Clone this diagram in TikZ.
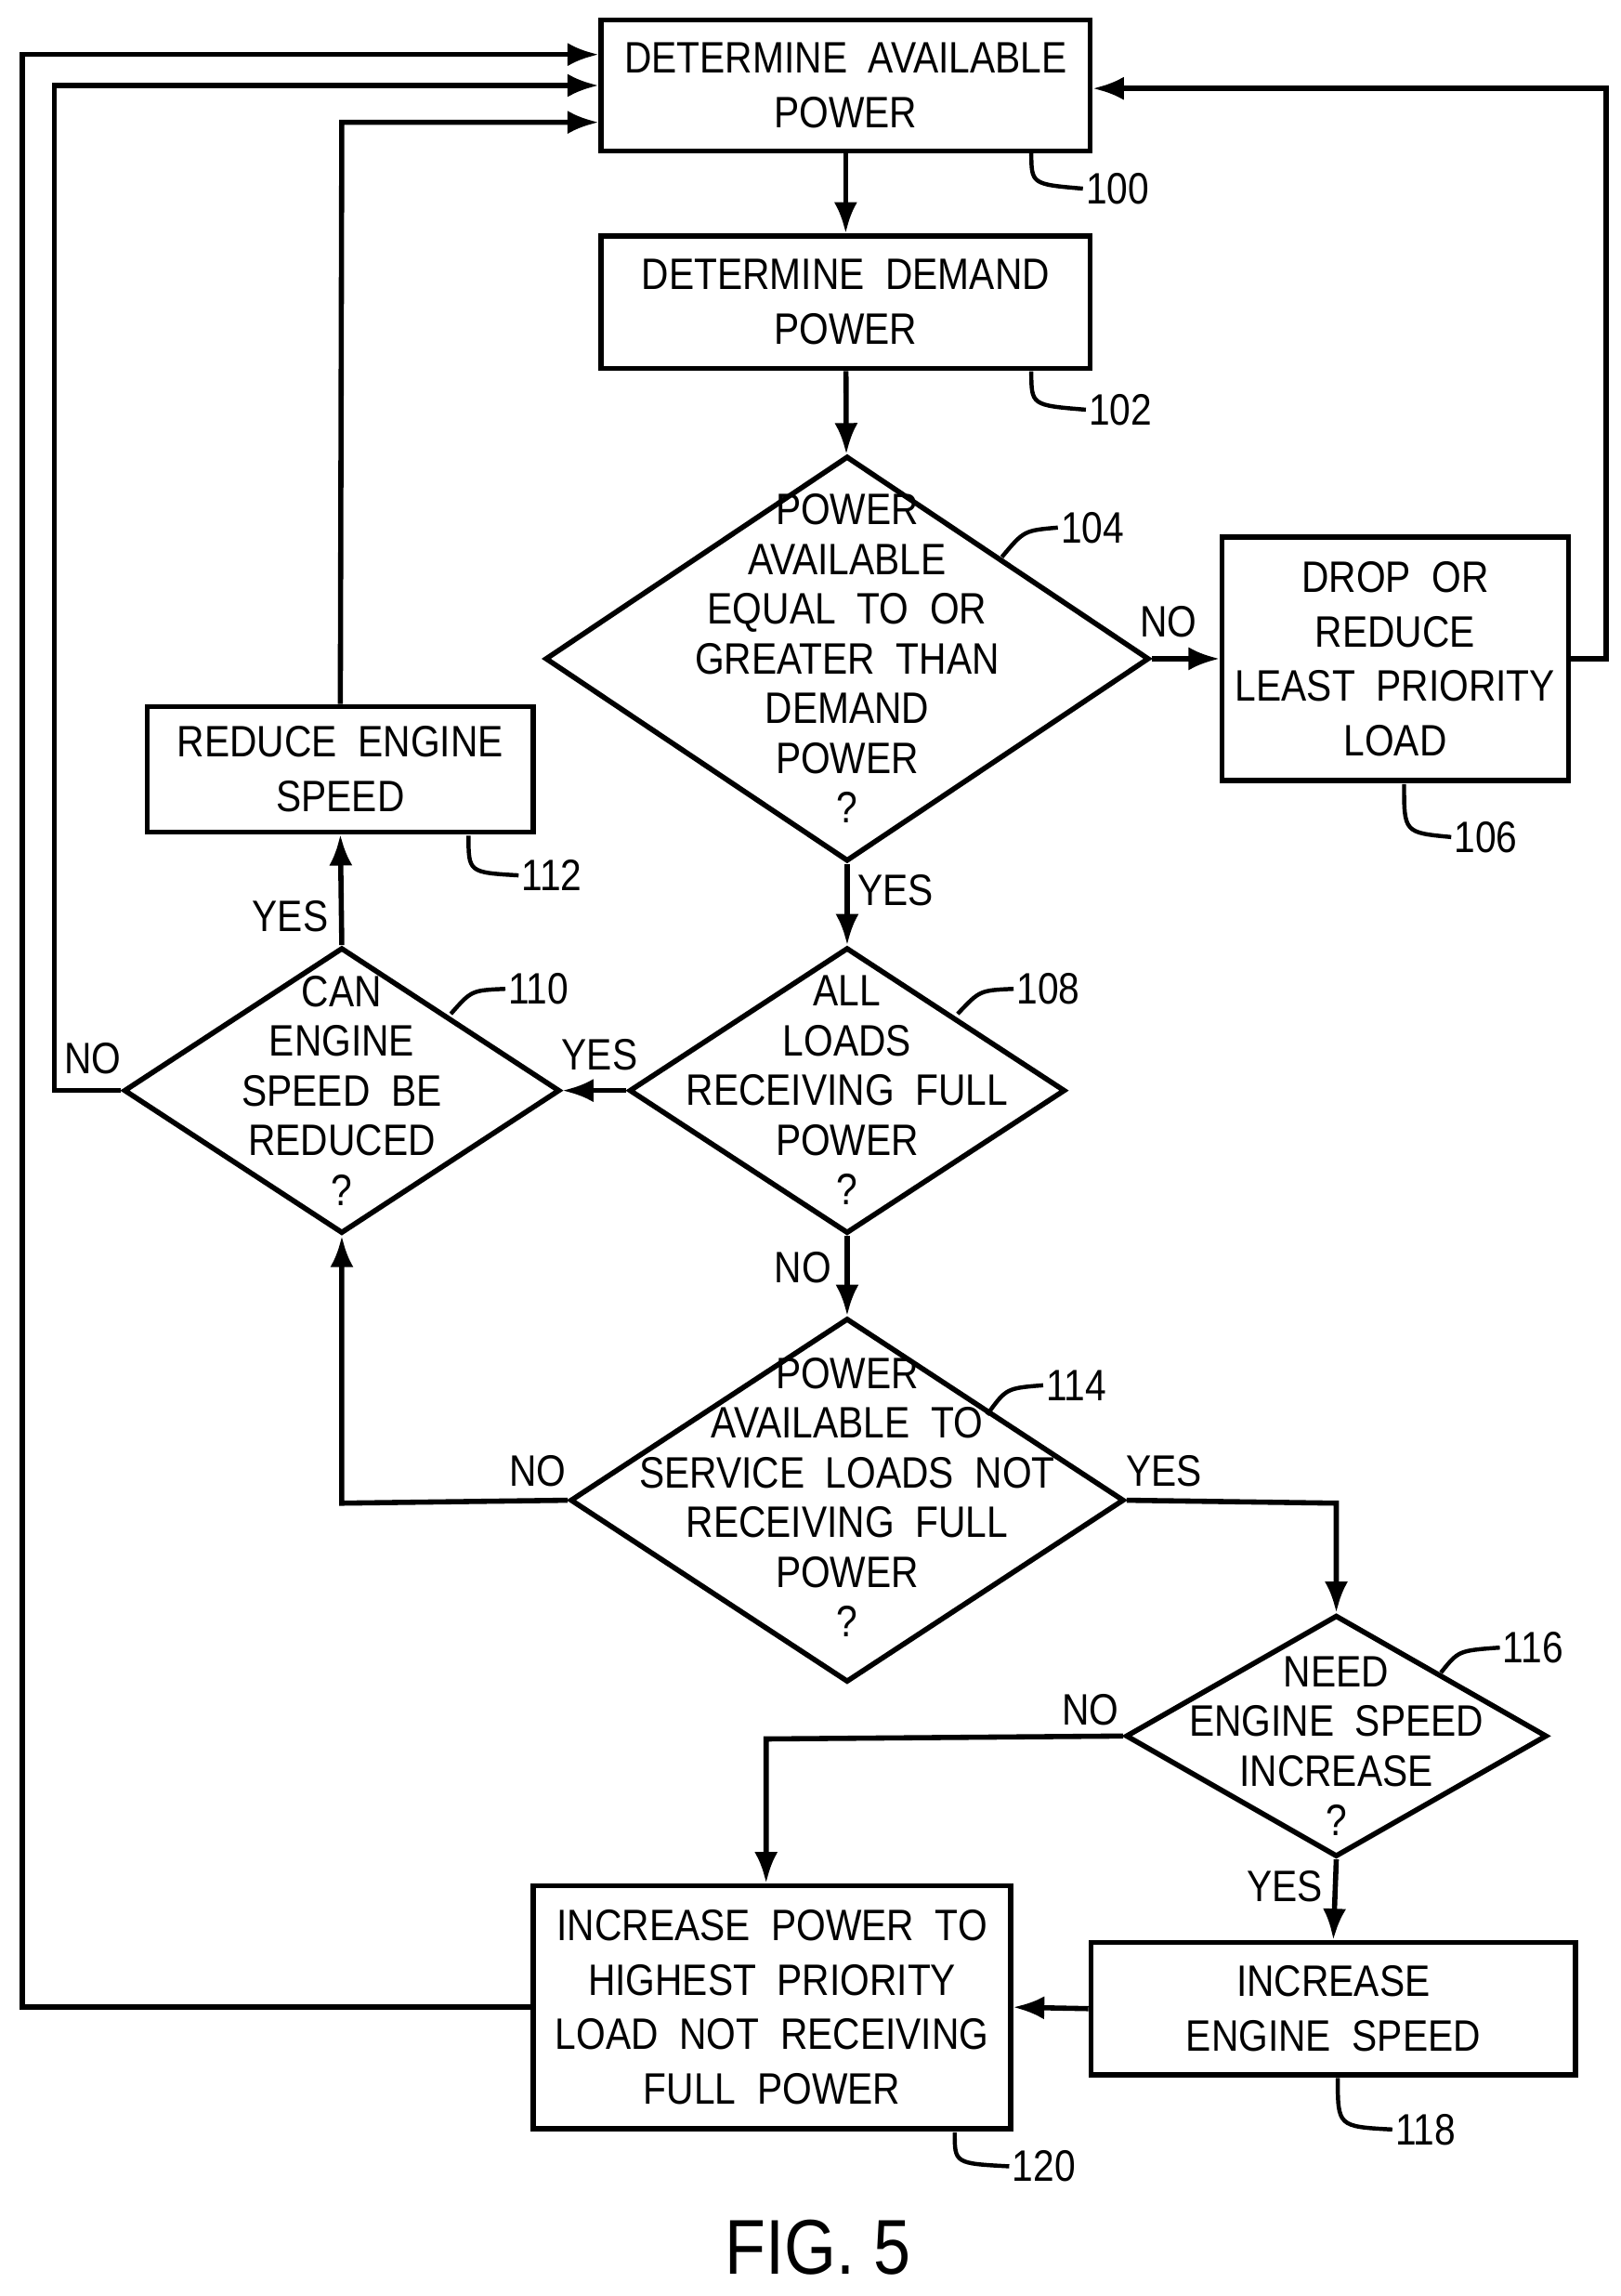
\documentclass[tikz,border=0pt]{standalone}
\usepackage{fontspec}
\setsansfont{Liberation Sans}[FakeStretch=0.86]
\usetikzlibrary{shapes.geometric,arrows.meta}
\begin{document}
\begin{tikzpicture}[x=0.02cm,y=-0.02cm,
  every node/.style={font=\sffamily\fontsize{17}{21}\selectfont},
  box/.style={draw,line width=2pt,align=center,inner sep=0},
  dia/.style={draw,line width=2pt,shape=diamond,inner sep=0},
  dt/.style={align=center,inner sep=0,font=\sffamily\fontsize{17}{19.2}\selectfont},
  ar/.style={line width=2pt,-{Latex[length=12pt,width=9pt]}},
  lab/.style={anchor=west,inner sep=1pt},
  hook/.style={line width=1.6pt}]
\useasboundingbox (0,0) rectangle (1100,1558);
% boxes
\node[box,minimum width=6.64cm,minimum height=1.78cm] (b100) at (574,58) {DETERMINE\ \ AVAILABLE\\POWER};
\node[box,minimum width=6.64cm,minimum height=1.8cm] (b102) at (574,205) {DETERMINE\ \ DEMAND\\POWER};
\node[dia,minimum width=8.2cm,minimum height=5.5cm] (d104) at (575,447) {};
\node[dt] (t104) at (575,447) {POWER\\AVAILABLE\\EQUAL\ \ TO\ \ OR\\GREATER\ \ THAN\\DEMAND\\POWER\\?};
\node[box,minimum width=4.7cm,minimum height=3.3cm] (b106) at (947,447) {DROP\ \ OR\\REDUCE\\LEAST\ \ PRIORITY\\LOAD};
\node[dia,minimum width=5.92cm,minimum height=3.88cm] (d108) at (575,740) {};
\node[dt] (t108) at (575,740) {ALL\\LOADS\\RECEIVING\ \ FULL\\POWER\\?};
\node[dia,minimum width=5.92cm,minimum height=3.88cm] (d110) at (232,740) {};
\node[dt] (t110) at (232,740) {CAN\\ENGINE\\SPEED\ \ BE\\REDUCED\\?};
\node[box,minimum width=5.24cm,minimum height=1.7cm] (b112) at (231,522) {REDUCE\ \ ENGINE\\SPEED};
\node[dia,minimum width=7.52cm,minimum height=4.94cm] (d114) at (575,1018) {};
\node[dt] (t114) at (575,1016) {POWER\\AVAILABLE\ \ TO\\SERVICE\ \ LOADS\ \ NOT\\RECEIVING\ \ FULL\\POWER\\?};
\node[dia,minimum width=5.72cm,minimum height=3.28cm] (d116) at (907,1178) {};
\node[dt] (t116) at (907,1185) {NEED\\ENGINE\ \ SPEED\\INCREASE\\?};
\node[box,minimum width=6.58cm,minimum height=1.8cm] (b118) at (905,1363) {INCREASE\\ENGINE\ \ SPEED};
\node[box,minimum width=6.48cm,minimum height=3.3cm] (b120) at (524,1362) {INCREASE\ \ POWER\ \ TO\\HIGHEST\ \ PRIORITY\\LOAD\ \ NOT\ \ RECEIVING\\FULL\ \ POWER};
% coordinates
\coordinate (r1) at (1090,447);
\coordinate (r2) at (1090,60);
\coordinate (a1) at (232,83);
\coordinate (n1) at (37,740);
\coordinate (n2) at (37,58);
\coordinate (m1) at (232,1020);
\coordinate (y1) at (907,1020);
\coordinate (k1) at (520,1180);
\coordinate (z1) at (15,1362);
\coordinate (z2) at (15,37);
% connectors
\draw[ar] (b100) -- (b102);
\draw[ar] (b102) -- (d104);
\draw[ar] (d104.east) -- (b106.west);
\draw[ar] (b106.east) -- (r1) -- (r2) -- (b100.east |- r2);
\draw[ar] (d104.south) -- (d108.north);
\draw[ar] (d108.west) -- (d110.east);
\draw[ar] (d110.north) -- (b112.south);
\draw[ar] (b112.north) -- (a1) -- (b100.west |- a1);
\draw[ar] (d110.west) -- (n1) -- (n2) -- (b100.west |- n2);
\draw[ar] (d108.south) -- (d114.north);
\draw[ar] (d114.west) -- (m1) -- (d110.south);
\draw[ar] (d114.east) -- (y1) -- (d116.north);
\draw[ar] (d116.south) -- (b118.north);
\draw[ar] (b118.west) -- (b120.east);
\draw[ar] (d116.west) -- (k1) -- (k1 |- b120.north);
\draw[ar] (b120.west) -- (z1) -- (z2) -- (b100.west |- z2);
% yes/no
\node at (793,422) {NO};
\node at (608,604) {YES};
\node at (407,716) {YES};
\node at (197,622) {YES};
\node at (63,718) {NO};
\node at (545,860) {NO};
\node at (365,998) {NO};
\node at (790,998) {YES};
\node at (740,1160) {NO};
\node at (872,1280) {YES};
% reference labels
\node[lab] (l100) at (735,128) {100};
\draw[hook] (700,103) .. controls (700,125) .. (l100.west);
\node[lab] (l102) at (737,278) {102};
\draw[hook] (700,252) .. controls (700,275) .. (l102.west);
\node[lab] (l104) at (718,358) {104};
\draw[hook] (680,378) .. controls (695,360) .. (l104.west);
\node[lab] (l106) at (985,568) {106};
\draw[hook] (953,532) .. controls (953,565) .. (l106.west);
\node[lab] (l108) at (688,671) {108};
\draw[hook] (650,688) .. controls (665,672) .. (l108.west);
\node[lab] (l110) at (343,671) {110};
\draw[hook] (306,688) .. controls (320,672) .. (l110.west);
\node[lab] (l112) at (352,594) {112};
\draw[hook] (318,567) .. controls (318,592) .. (l112.west);
\node[lab] (l114) at (708,940) {114};
\draw[hook] (670,960) .. controls (683,942) .. (l114.west);
\node[lab] (l116) at (1018,1118) {116};
\draw[hook] (978,1135) .. controls (990,1120) .. (l116.west);
\node[lab] (l118) at (945,1445) {118};
\draw[hook] (908,1410) .. controls (908,1443) .. (l118.west);
\node[lab] (l120) at (685,1470) {120};
\draw[hook] (648,1447) .. controls (648,1468) .. (l120.west);
\node[font=\sffamily\fontsize{30}{34}\selectfont] (fig) at (555,1525) {FIG. 5};
\end{tikzpicture}
\end{document}
